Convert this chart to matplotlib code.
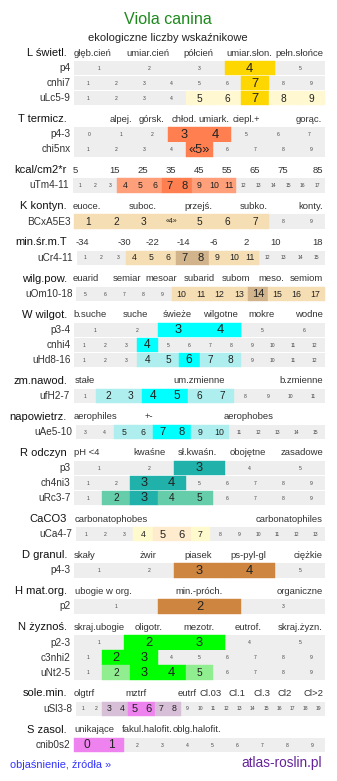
import matplotlib.pyplot as plt

plt.rcParams['font.family'] = ['Liberation Sans', 'DejaVu Sans']

# sekcje wykresu
section_titles = ["L świetl.", "T termicz.", "kcal/cm2*r", "K kontyn.", "min.śr.m.T",
                  "wilg.pow.", "W wilgot.", "zm.nawod.", "napowietrz.", "R odczyn",
                  "CaCO3", "D granul.", "H mat.org.", "N żyznoś.", "sole.min.", "S zasol."]

scale_texts = [
    ["głęb.cień", "umiar.cień", "półcień", "umiar.słon.", "pełn.słońce"],
    ["alpej.", "górsk.", "chłod.", "umiark.", "ciepl.+", "gorąc."],
    ["5", "15", "25", "35", "45", "55", "65", "75", "85"],
    ["euoce.", "suboc.", "przejś.", "subko.", "konty."],
    ["-34", "-30", "-22", "-14", "-6", "2", "10", "18"],
    ["euarid", "semiar", "mesoar", "subarid", "subom", "meso.", "semiom"],
    ["b.suche", "suche", "świeże", "wilgotne", "mokre", "wodne"],
    ["stałe", "um.zmienne", "b.zmienne"],
    ["aerophiles", "+-", "aerophobes"],
    ["pH <4", "kwaśne", "sł.kwaśn.", "obojętne", "zasadowe"],
    ["carbonatophobes", "carbonatophiles"],
    ["skały", "żwir", "piasek", "ps-pyl-gl", "ciężkie"],
    ["ubogie w org.", "min.-próch.", "organiczne"],
    ["skraj.ubogie", "oligotr.", "mezotr.", "eutrof.", "skraj.żyzn."],
    ["olgtrf", "mztrf", "eutrf", "Cl.03", "Cl.1", "Cl.3", "Cl2", "Cl>2"],
    ["unikające", "fakul.halofit.", "oblg.halofit."],
]

# wiersze
row_names = ["p4", "cnhi7", "uLc5-9", "p4-3", "chi5nx", "uTm4-11", "BCxA5E3", "uCr4-11",
             "uOm10-18", "p3-4", "cnhi4", "uHd8-16", "ufH2-7", "uAe5-10", "p3", "ch4ni3",
             "uRc3-7", "uCa4-7", "p4-3", "p2", "p2-3", "c3nhi2", "uNt2-5", "uSl3-8", "cnib0s2"]
row_section = [0, 0, 0, 1, 1, 2, 3, 4, 5, 6, 6, 6, 7, 8, 9, 9, 9, 10, 11, 12, 13, 13, 13, 14, 15]
row_first = [1, 1, 1, 0, 1, 1, 1, 1, 5, 1, 1, 1, 1, 3, 1, 1, 1, 1, 1, 1, 1, 1, 1, 1, 0]
row_last = [5, 9, 9, 7, 9, 17, 9, 15, 17, 6, 12, 12, 11, 15, 5, 9, 9, 13, 5, 3, 5, 9, 9, 19, 9]
row_strong = [[4], [7], [7], [3, 4], [5], [7, 8], [], [7, 8], [14], [3, 4], [4], [6], [4, 5],
              [7, 8], [3], [3, 4], [3], [5, 6], [3, 4], [2], [2, 3], [2, 3], [3, 4], [5, 6], [0, 1]]
row_weak = [[], [], [5, 6, 8, 9], [], [], [4, 5, 6, 9, 10, 11], [1, 2, 3, 4, 5, 6, 7],
            [4, 5, 6, 9, 10, 11], [10, 11, 12, 13, 15, 16, 17], [], [], [4, 5, 7, 8],
            [2, 3, 6, 7], [5, 6, 9, 10], [], [], [2, 4, 5], [4, 7], [], [], [], [], [2, 5],
            [3, 4, 7, 8], []]
row_marked = {4: {5: "«5»"}, 6: {4: "«4»"}}

sec_strong = ["#FFD700", "#FF7F50", "#FF7F50", "#D2B48C", "#D2B48C", "#D2B48C", "#00FFFF",
              "#00FFFF", "#00FFFF", "#20B2AA", "#FFEBCD", "#CD853F", "#CD853F", "#00FF00",
              "#EE82EE", "#EE82EE"]
sec_weak = ["#FFF8D0", "#FFA07A", "#FFA07A", "#F5DEB3", "#F5DEB3", "#F5DEB3", "#AFEEEE",
            "#AFEEEE", "#AFEEEE", "#66CDAA", "#FFFACD", "#CD853F", "#CD853F", "#90EE90",
            "#D8BFD8", "#D8BFD8"]

# uklad (piksele)
scale_x = [
    [74, 148, 198, 249, 323], [121, 152, 184, 214, 246, 309],
    [73, 115, 143, 171, 199, 227, 255, 283, 323], [73, 143, 198, 254, 323],
    [82, 124, 153, 183, 214, 246, 276, 318], [73, 127, 161, 199, 236, 271, 323],
    [73, 135, 177, 220, 262, 323], [85, 199, 323], [74, 149, 249],
    [74, 149, 197, 248, 323], [75, 323], [74, 148, 198, 248, 323], [75, 199, 323],
    [74, 149, 199, 248, 323], [74, 136, 187, 211, 237, 262, 285, 323], [74, 147, 197],
]
scale_ha = ["lcccr", "cccccc", "lcccccccr", "lcccr", "cccccccc", "lcccccr", "lccccr", "ccr",
            "lcc", "lcccr", "lr", "lcccr", "lcr", "lcccr", "lccccccr", "lcc"]
row_left = [74, 74, 74, 74, 74, 73, 74, 76.5, 76, 74, 74, 74, 73.5, 76, 74, 74, 74, 76, 74,
            74, 74, 74, 74, 76, 74]
right_edge = 325
ha_map = {"l": "left", "c": "center", "r": "right"}

fig = plt.figure(figsize=(3.37, 7.81), dpi=100)
ax = fig.add_axes([0, 0, 1, 1])
ax.set_xlim(0, 337)
ax.set_ylim(781, 0)
ax.axis('off')

ax.text(168, 20, "Viola canina", ha='center', va='center', fontsize=11.6, color='#1e8a1e')
ax.text(168, 38, "ekologiczne liczby wskaźnikowe", ha='center', va='center', fontsize=8,
        color='#222222')

row_y = [0] * len(row_names)
y = 53.0
for s, title in enumerate(section_titles):
    ax.text(67, y, title, ha='right', va='center', fontsize=8, color='#111111')
    for t, xx, h in zip(scale_texts[s], scale_x[s], scale_ha[s]):
        ax.text(xx, y, t, ha=ha_map[h], va='center', fontsize=6.8, color='#333333')
    rows = [i for i in range(len(row_names)) if row_section[i] == s]
    y += 15.25
    for k, i in enumerate(rows):
        row_y[i] = y + 15 * k
    y = row_y[rows[-1]] + 20.85

for i, name in enumerate(row_names):
    yc = row_y[i]
    x0 = row_left[i]
    s = row_section[i]
    values = list(range(row_first[i], row_last[i] + 1))
    n = len(values)
    w = (right_edge - x0) / n
    ax.text(x0 - 3.5, yc, name, ha='right', va='center', fontsize=7.2, color='#333333')
    ax.barh(yc, right_edge - x0, left=x0, height=14.3, color='#EEEEEE', linewidth=0)
    big = 9.3 if n <= 9 else (8.6 if n <= 12 else 8)
    mid = 7.3 if n <= 12 else 6.3
    for j, v in enumerate(values):
        xc = x0 + (j + 0.5) * w
        label = row_marked.get(i, {}).get(v, str(v))
        if v in row_strong[i]:
            ax.barh(yc, w, left=x0 + j * w, height=14.3, color=sec_strong[s],
                    edgecolor=sec_strong[s], linewidth=0.3)
            fs = big
        elif v in row_weak[i]:
            ax.barh(yc, w, left=x0 + j * w, height=14.3, color=sec_weak[s],
                    edgecolor=sec_weak[s], linewidth=0.3)
            fs = mid if label == str(v) else 5
        else:
            fs = 3.6
        color = '#222222' if fs > 4 else '#444444'
        ax.text(xc, yc + 0.3, label, ha='center', va='center', fontsize=fs, color=color)

ax.text(10, 765, "objaśnienie, źródła »", ha='left', va='center', fontsize=7.9, color='#3333FF')
ax.text(322, 763, "atlas-roslin.pl", ha='right', va='center', fontsize=9.8, color='#66229A')

fig.savefig('out.png', dpi=100)
